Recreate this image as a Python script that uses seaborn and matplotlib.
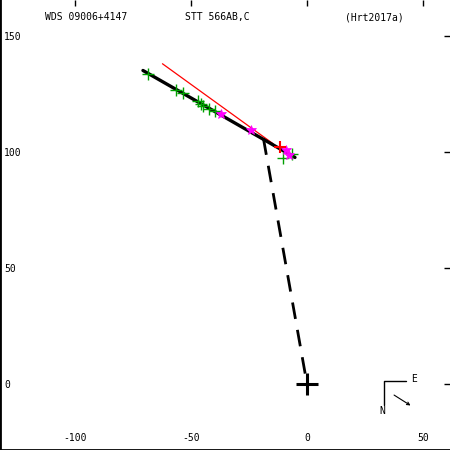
import matplotlib
matplotlib.use("Agg")
import matplotlib.pyplot as plt
import seaborn as sns

# header texts
title_wds = "WDS 09006+4147"
title_name = "STT 566AB,C"
title_ref = "(Hrt2017a)"

# orbit arc (x = -East offset, y = North offset, mas)
orbit_x = [-70.7, -38.0, -5.2]
orbit_y = [135.3, 116.6, 97.8]

# earlier orbit (red)
old_x = [-62.3, -14.6]
old_y = [138.2, 103.7]

# micrometer / visual measures (green +)
green_x = [-68.5, -56.6, -53.6, -47.1, -45.8, -45.0, -42.2, -39.7, -10.5, -6.6]
green_y = [133.6, 126.7, 125.7, 122.1, 120.7, 120.0, 118.8, 117.8, 97.5, 99.1]

# speckle measures (magenta)
mag_x = [-37.1, -24.3, -9.1, -7.6]
mag_y = [116.7, 109.5, 100.9, 98.7]

# other measure (red +)
red_x = [-11.8]
red_y = [102.2]

# line to current position
node_x = [-18.8, 0.0]
node_y = [106.0, 0.0]

xticks = [-100, -50, 0, 50]
yticks = [0, 50, 100, 150]

sns.set_style("white")
plt.rcParams["font.family"] = ["DejaVu Sans Mono"]
plt.rcParams["text.color"] = "black"

fig = plt.figure(figsize=(4.5, 4.5), dpi=100)
ax = fig.add_axes([0, 0, 1, 1])

sns.lineplot(x=old_x, y=old_y, color="red", lw=0.9, ax=ax, sort=False)
sns.lineplot(x=orbit_x, y=orbit_y, color="black", lw=2.4, ax=ax, sort=False)
sns.lineplot(x=node_x, y=node_y, color="black", lw=2.0, ax=ax, sort=False,
             dashes=False, linestyle=(0, (6, 4)))
ax.plot(green_x, green_y, ls="none", marker="+", ms=8, mew=1, color="#00a000")
ax.plot(mag_x, mag_y, ls="none", marker="*", ms=7, mew=0.5, color="magenta")
ax.plot(red_x, red_y, ls="none", marker="+", ms=8, mew=1.5, color="red")
ax.plot([0], [0], ls="none", marker="+", ms=16, mew=2.2, color="black")

# compass
ax.plot([42.7, 33.2, 33.2], [1.3, 1.3, -9.1], color="black", lw=1)
ax.text(45.0, 2.2, "E", fontsize=7, ha="left", va="center", color="black")
ax.text(32.6, -11.5, "N", fontsize=7, ha="center", va="center", color="black")
ax.annotate("", xy=(44.6, -9.2), xytext=(37.5, -4.7),
            arrowprops=dict(arrowstyle="->", lw=0.8, color="black",
                            shrinkA=0, shrinkB=0, mutation_scale=5))

ax.set_xlim(-132.3, 61.6)
ax.set_ylim(-28.4, 165.7)
ax.set_xticks(xticks)
ax.set_yticks(yticks)
ax.set_xticklabels([str(v) for v in xticks])
ax.set_yticklabels([str(v) for v in yticks])
ax.tick_params(direction="in", length=4, width=1, top=True, right=True,
               labelsize=7, colors="black", labelcolor="black")
ax.tick_params(axis="x", pad=-12)
ax.tick_params(axis="y", pad=-3)
plt.setp(ax.get_yticklabels(), ha="left")
for s in ["top", "right"]:
    ax.spines[s].set_visible(False)
for s in ["left", "bottom"]:
    ax.spines[s].set_linewidth(2)
    ax.spines[s].set_color("black")

for xpos, txt in [(45, title_wds), (185, title_name), (345, title_ref)]:
    ax.text(xpos / 450, 1 - 17 / 450, txt, transform=ax.transAxes,
            fontsize=7, ha="left", va="center", color="black")

fig.savefig("out.png", dpi=100)
